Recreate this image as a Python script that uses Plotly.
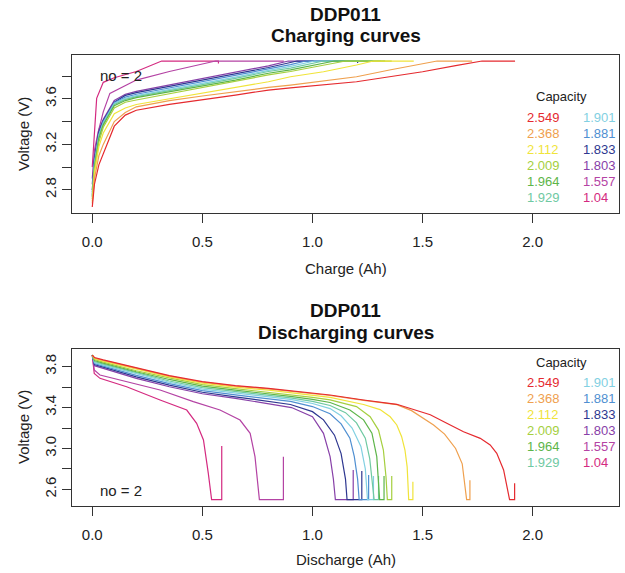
import plotly.graph_objects as go

# ---------------- data ----------------
capacity_labels = ["2.549", "2.368", "2.112", "2.009", "1.964", "1.929",
                   "1.901", "1.881", "1.833", "1.803", "1.557", "1.04"]
colors = ["#E52A2F", "#EFA04E", "#F0E43A", "#A5CF3F", "#5DB54A", "#6FC9A2",
          "#82D0E2", "#4F8FD1", "#2E3790", "#8740A8", "#B443A4", "#D42A80"]

# Charging curves: charge (Ah) and voltage (V) per cell
chg_x_2549 = [0, 0.01, 0.03, 0.05, 0.1, 0.15, 0.2, 0.35, 0.5, 0.65, 0.8, 0.9, 1.2, 1.5, 1.65, 1.77, 1.92]
chg_v_2549 = [2.65, 2.85, 3.02, 3.12, 3.36, 3.457, 3.50, 3.551, 3.589, 3.633, 3.677, 3.697, 3.75, 3.838, 3.891, 3.932, 3.932]
chg_x_2368 = [0, 0.01, 0.03, 0.05, 0.1, 0.15, 0.2, 0.35, 0.5, 0.65, 0.8, 0.9, 1.2, 1.35, 1.566, 1.725]
chg_v_2368 = [2.68, 2.90, 3.10, 3.20, 3.40, 3.48, 3.53, 3.585, 3.625, 3.665, 3.70, 3.721, 3.794, 3.853, 3.932, 3.932]
chg_x_2112 = [0, 0.01, 0.03, 0.05, 0.1, 0.15, 0.2, 0.35, 0.5, 0.65, 0.8, 0.9, 1.05, 1.2, 1.277, 1.46]
chg_v_2112 = [2.70, 2.95, 3.18, 3.30, 3.47, 3.52, 3.55, 3.60, 3.645, 3.695, 3.75, 3.794, 3.838, 3.897, 3.932, 3.932]
chg_x_2009 = [0, 0.01, 0.03, 0.05, 0.1, 0.15, 0.2, 0.35, 0.5, 0.65, 0.8, 0.9, 1.15, 1.36]
chg_v_2009 = [2.72, 2.98, 3.22, 3.35, 3.52, 3.57, 3.59, 3.645, 3.695, 3.75, 3.81, 3.84, 3.932, 3.932]
chg_x_1964 = [0, 0.01, 0.03, 0.05, 0.1, 0.15, 0.2, 0.35, 0.5, 0.65, 0.8, 0.9, 1.10, 1.33]
chg_v_1964 = [2.74, 3.00, 3.25, 3.37, 3.54, 3.585, 3.61, 3.66, 3.712, 3.765, 3.825, 3.855, 3.932, 3.932]
chg_x_1929 = [0, 0.01, 0.03, 0.05, 0.1, 0.15, 0.2, 0.35, 0.5, 0.65, 0.8, 0.9, 1.05, 1.31]
chg_v_1929 = [2.75, 3.02, 3.27, 3.38, 3.55, 3.595, 3.62, 3.67, 3.725, 3.78, 3.84, 3.87, 3.932, 3.932]
chg_x_1901 = [0, 0.01, 0.03, 0.05, 0.1, 0.15, 0.2, 0.35, 0.5, 0.65, 0.8, 0.9, 1.01, 1.28]
chg_v_1901 = [2.76, 3.03, 3.28, 3.39, 3.56, 3.605, 3.628, 3.68, 3.735, 3.79, 3.85, 3.885, 3.932, 3.932]
chg_x_1881 = [0, 0.01, 0.03, 0.05, 0.1, 0.15, 0.2, 0.35, 0.5, 0.65, 0.8, 0.9, 0.97, 1.25]
chg_v_1881 = [2.78, 3.05, 3.29, 3.40, 3.565, 3.615, 3.64, 3.695, 3.75, 3.805, 3.865, 3.90, 3.932, 3.932]
chg_x_1833 = [0, 0.01, 0.03, 0.05, 0.1, 0.15, 0.2, 0.35, 0.5, 0.65, 0.8, 0.93, 1.205, 1.205]
chg_v_1833 = [2.80, 3.07, 3.31, 3.41, 3.57, 3.63, 3.655, 3.71, 3.765, 3.82, 3.875, 3.932, 3.932, 3.915]
chg_x_1803 = [0, 0.01, 0.03, 0.05, 0.1, 0.15, 0.2, 0.35, 0.5, 0.65, 0.8, 0.89, 1.17]
chg_v_1803 = [2.85, 3.10, 3.33, 3.42, 3.585, 3.64, 3.665, 3.72, 3.775, 3.83, 3.89, 3.932, 3.932]
chg_x_1557 = [0, 0.01, 0.027, 0.05, 0.08, 0.15, 0.2, 0.35, 0.5, 0.56, 0.87]
chg_v_1557 = [2.90, 3.15, 3.31, 3.486, 3.648, 3.72, 3.765, 3.84, 3.905, 3.932, 3.932]
chg_x_1040 = [0, 0.01, 0.02, 0.05, 0.1, 0.2, 0.315, 0.573, 0.573]
chg_v_1040 = [3.00, 3.35, 3.604, 3.745, 3.785, 3.84, 3.932, 3.932, 3.91]

# Discharging curves: discharge (Ah) and voltage (V) per cell
dis_x_2549 = [0, 0.01, 0.05, 0.2, 0.35, 0.5, 0.65, 0.8, 0.9, 1.0, 1.08, 1.232, 1.383, 1.459, 1.535, 1.61, 1.686, 1.762, 1.807, 1.837, 1.868, 1.895, 1.918, 1.918]
dis_v_2549 = [3.914, 3.89, 3.866, 3.79, 3.712, 3.653, 3.614, 3.588, 3.565, 3.54, 3.523, 3.474, 3.432, 3.381, 3.33, 3.246, 3.164, 3.099, 3.034, 2.953, 2.79, 2.5, 2.5, 2.66]
dis_x_2368 = [0, 0.01, 0.05, 0.2, 0.35, 0.5, 0.65, 0.8, 0.9, 1.0, 1.08, 1.232, 1.383, 1.45, 1.5, 1.55, 1.6, 1.65, 1.68, 1.695, 1.70, 1.715, 1.715]
dis_v_2368 = [3.914, 3.885, 3.862, 3.785, 3.707, 3.648, 3.609, 3.583, 3.56, 3.535, 3.518, 3.47, 3.428, 3.37, 3.30, 3.23, 3.14, 3.00, 2.85, 2.62, 2.5, 2.5, 2.69]
dis_x_2112 = [0, 0.01, 0.05, 0.2, 0.35, 0.5, 0.65, 0.8, 0.9, 1.0, 1.08, 1.232, 1.307, 1.353, 1.383, 1.405, 1.42, 1.43, 1.437, 1.456, 1.456]
dis_v_2112 = [3.914, 3.88, 3.855, 3.775, 3.70, 3.64, 3.60, 3.57, 3.545, 3.52, 3.50, 3.43, 3.38, 3.31, 3.23, 3.115, 2.985, 2.82, 2.5, 2.5, 2.675]
dis_x_2009 = [0, 0.01, 0.05, 0.2, 0.35, 0.5, 0.65, 0.8, 0.9, 1.0, 1.08, 1.2, 1.262, 1.3, 1.322, 1.334, 1.34, 1.36, 1.36]
dis_v_2009 = [3.914, 3.87, 3.845, 3.76, 3.69, 3.625, 3.585, 3.55, 3.525, 3.50, 3.475, 3.41, 3.31, 3.18, 2.985, 2.72, 2.5, 2.5, 2.73]
dis_x_1964 = [0, 0.01, 0.05, 0.2, 0.35, 0.5, 0.65, 0.8, 0.9, 1.0, 1.08, 1.17, 1.232, 1.27, 1.292, 1.305, 1.325, 1.325]
dis_v_1964 = [3.914, 3.86, 3.835, 3.75, 3.675, 3.61, 3.57, 3.535, 3.51, 3.48, 3.45, 3.376, 3.28, 3.15, 2.92, 2.5, 2.5, 2.73]
dis_x_1929 = [0, 0.01, 0.05, 0.2, 0.35, 0.5, 0.65, 0.8, 0.9, 1.0, 1.08, 1.15, 1.2, 1.24, 1.26, 1.28, 1.30, 1.30]
dis_v_1929 = [3.914, 3.85, 3.825, 3.74, 3.66, 3.595, 3.555, 3.52, 3.495, 3.46, 3.42, 3.35, 3.25, 3.10, 2.90, 2.5, 2.5, 2.73]
dis_x_1901 = [0, 0.01, 0.05, 0.2, 0.35, 0.5, 0.65, 0.8, 0.9, 1.0, 1.08, 1.13, 1.18, 1.22, 1.24, 1.25, 1.277, 1.277]
dis_v_1901 = [3.914, 3.84, 3.815, 3.728, 3.648, 3.58, 3.54, 3.505, 3.48, 3.44, 3.39, 3.32, 3.20, 3.02, 2.80, 2.5, 2.5, 2.73]
dis_x_1881 = [0, 0.01, 0.05, 0.2, 0.35, 0.5, 0.65, 0.8, 0.9, 1.0, 1.08, 1.13, 1.17, 1.19, 1.205, 1.212, 1.255, 1.255]
dis_v_1881 = [3.914, 3.83, 3.805, 3.715, 3.635, 3.565, 3.525, 3.485, 3.46, 3.41, 3.34, 3.24, 3.10, 2.92, 2.70, 2.5, 2.5, 2.74]
dis_x_1833 = [0, 0.01, 0.05, 0.2, 0.35, 0.5, 0.65, 0.8, 0.9, 1.0, 1.05, 1.10, 1.13, 1.15, 1.157, 1.224, 1.224]
dis_v_1833 = [3.914, 3.82, 3.795, 3.70, 3.62, 3.55, 3.505, 3.46, 3.43, 3.36, 3.28, 3.13, 2.95, 2.70, 2.5, 2.5, 2.78]
dis_x_1803 = [0, 0.01, 0.05, 0.2, 0.35, 0.5, 0.65, 0.8, 0.905, 1.0, 1.05, 1.08, 1.095, 1.104, 1.185, 1.185]
dis_v_1803 = [3.914, 3.81, 3.784, 3.686, 3.604, 3.535, 3.49, 3.44, 3.40, 3.311, 3.148, 2.92, 2.70, 2.5, 2.5, 2.79]
dis_x_1557 = [0, 0.009, 0.035, 0.156, 0.308, 0.459, 0.58, 0.671, 0.717, 0.739, 0.759, 0.868, 0.868]
dis_v_1557 = [3.914, 3.768, 3.719, 3.653, 3.572, 3.458, 3.376, 3.278, 3.148, 2.92, 2.5, 2.5, 2.92]
dis_x_1040 = [0, 0.009, 0.035, 0.156, 0.308, 0.429, 0.474, 0.505, 0.527, 0.542, 0.588, 0.588]
dis_v_1040 = [3.914, 3.735, 3.686, 3.604, 3.474, 3.376, 3.246, 3.083, 2.757, 2.5, 2.5, 3.024]

charge_x = [chg_x_2549, chg_x_2368, chg_x_2112, chg_x_2009, chg_x_1964, chg_x_1929,
            chg_x_1901, chg_x_1881, chg_x_1833, chg_x_1803, chg_x_1557, chg_x_1040]
charge_v = [chg_v_2549, chg_v_2368, chg_v_2112, chg_v_2009, chg_v_1964, chg_v_1929,
            chg_v_1901, chg_v_1881, chg_v_1833, chg_v_1803, chg_v_1557, chg_v_1040]
dis_x = [dis_x_2549, dis_x_2368, dis_x_2112, dis_x_2009, dis_x_1964, dis_x_1929,
         dis_x_1901, dis_x_1881, dis_x_1833, dis_x_1803, dis_x_1557, dis_x_1040]
dis_v = [dis_v_2549, dis_v_2368, dis_v_2112, dis_v_2009, dis_v_1964, dis_v_1929,
         dis_v_1901, dis_v_1881, dis_v_1833, dis_v_1803, dis_v_1557, dis_v_1040]

x_ticks = [0.0, 0.5, 1.0, 1.5, 2.0]
x_tick_text = ["0.0", "0.5", "1.0", "1.5", "2.0"]
top_y_ticks = [2.8, 3.0, 3.2, 3.4, 3.6, 3.8]
top_y_text = ["2.8", "", "3.2", "", "3.6", ""]
bot_y_ticks = [2.6, 2.8, 3.0, 3.2, 3.4, 3.6, 3.8]
bot_y_text = ["2.6", "", "3.0", "", "3.4", "", "3.8"]

# ---------------- figure ----------------
W, H = 625, 573
ML, MR, MT, MB = 72, 6, 55, 67
PW, PH = W - ML - MR, H - MT - MB
FONT = "Arial, 'Liberation Sans', sans-serif"


def px_x(p):
    return (p - ML) / PW


def px_y(p):
    return (H - MB - p) / PH


top_dom = [px_y(212.7), 1.0]
bot_dom = [0.0, px_y(349)]

fig = go.Figure()
order = list(range(len(capacity_labels)))[::-1]
for i in order:
    fig.add_trace(go.Scatter(x=charge_x[i], y=charge_v[i], mode="lines",
                             line=dict(color=colors[i], width=1.2),
                             xaxis="x", yaxis="y", showlegend=False,
                             hoverinfo="skip"))
for i in order:
    fig.add_trace(go.Scatter(x=dis_x[i], y=dis_v[i], mode="lines",
                             line=dict(color=colors[i], width=1.2),
                             xaxis="x2", yaxis="y2", showlegend=False,
                             hoverinfo="skip"))

axis_common = dict(showline=True, mirror=True, linecolor="#333333", linewidth=1,
                   showgrid=False, zeroline=False, ticks="outside", ticklen=9,
                   tickcolor="#333333", tickwidth=1,
                   tickfont=dict(family=FONT, size=15, color="#222222"))

fig.update_layout(
    width=W, height=H,
    margin=dict(l=ML, r=MR, t=MT, b=MB),
    paper_bgcolor="white", plot_bgcolor="white",
    showlegend=False,
    xaxis=dict(domain=[0, 1], range=[-0.092, 2.392], anchor="y",
               tickmode="array", tickvals=x_ticks, ticktext=x_tick_text,
               ticklabelstandoff=6, **axis_common),
    yaxis=dict(domain=top_dom, range=[2.6, 3.985], anchor="x",
               tickmode="array", tickvals=top_y_ticks, ticktext=top_y_text,
               tickangle=-90, **axis_common),
    xaxis2=dict(domain=[0, 1], range=[-0.092, 2.392], anchor="y2",
                tickmode="array", tickvals=x_ticks, ticktext=x_tick_text,
                ticklabelstandoff=6, **axis_common),
    yaxis2=dict(domain=bot_dom, range=[2.437, 3.973], anchor="x2",
                tickmode="array", tickvals=bot_y_ticks, ticktext=bot_y_text,
                tickangle=-90, **axis_common),
)

ann = []


def add_text(text, x, y, size, color="#111111", bold=False, angle=0, anchor="center"):
    ann.append(dict(text=("<b>%s</b>" % text) if bold else text,
                    x=px_x(x), y=px_y(y), xref="paper", yref="paper",
                    xanchor=anchor, yanchor="middle", showarrow=False,
                    textangle=angle, borderpad=0,
                    font=dict(family=FONT, size=size, color=color)))


cx = (ML + W - MR) / 2
# titles
add_text("DDP011", cx, 14, 19, bold=True)
add_text("Charging curves", cx, 36, 19, bold=True)
add_text("DDP011", cx, 310, 19, bold=True)
add_text("Discharging curves", cx, 332, 19, bold=True)
# axis titles
add_text("Charge (Ah)", cx, 268, 15, color="#222222")
add_text("Discharge (Ah)", cx, 559, 15, color="#222222")
add_text("Voltage (V)", 23, 134, 15, color="#222222", angle=-90)
add_text("Voltage (V)", 23, 427, 15, color="#222222", angle=-90)
# cycle note
add_text("no = 2", 121, 76, 15, color="#222222")
add_text("no = 2", 121, 490, 15, color="#222222")

# capacity legends
for y0, rows in ((96, [117.3, 133.3, 149.3, 165.5, 181.6, 197.7]),
                 (362, [382.3, 398.3, 414.5, 430.6, 446.6, 462.6])):
    add_text("Capacity", 561, y0, 13, color="#222222")
    for k in range(6):
        add_text(capacity_labels[k], 526, rows[k], 13, color=colors[k], anchor="left")
        add_text(capacity_labels[k + 6], 582, rows[k], 13, color=colors[k + 6], anchor="left")

fig.update_layout(annotations=ann)
fig.write_html("out.html")
